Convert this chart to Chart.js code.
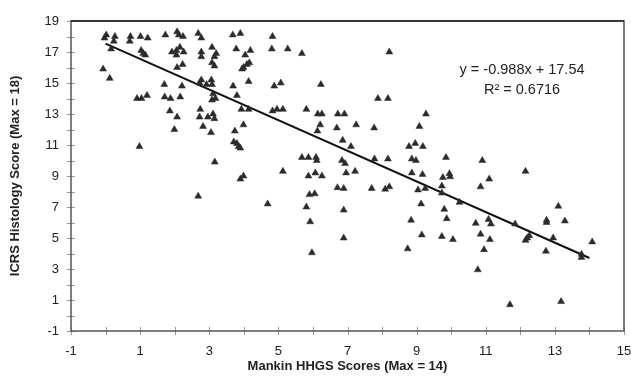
<!DOCTYPE html>
<html>
<head>
<meta charset="utf-8">
<script src="https://cdn.jsdelivr.net/npm/chart.js@4.4.0/dist/chart.umd.min.js"></script>
<style>
  html, body { margin: 0; padding: 0; background: #fff; }
</style>
</head>
<body>
<canvas id="chart" width="631" height="378"></canvas>
<script>
// Mankin HHGS score (x) and ICRS histology score (y)
const mankin = [
  0.02, -0.03, 0.27, 0.24, 0.72, 0.70, 1.01, 1.22, 1.73, 2.07, 2.12, 2.24, 2.68, 2.77, 3.68, 3.90,
  0.16, 1.03, 1.09, 1.15, 1.92, 2.05, 2.15, 2.26, 2.05, 2.77, 2.77, 3.08, 3.20, 3.15, 3.78, 4.04, 4.19,
  -0.07, 0.12, 2.07, 2.23, 3.08, 3.15, 3.95, 3.99, 4.09, 4.16,
  1.70, 2.21, 2.77, 2.72, 2.92, 3.06, 3.08, 3.69, 4.14,
  0.91, 1.04, 1.20, 1.71, 1.88, 2.16, 3.11, 3.18, 3.08, 3.80,
  1.86, 2.07, 2.74, 2.72, 2.96, 3.11, 3.15, 3.93, 4.14,
  1.99, 2.82, 3.05, 3.74, 3.99, 0.98, 3.71, 3.80, 3.85, 3.90,
  3.16, 3.90, 3.99, 2.68, 4.69,
  4.83, 4.81, 5.27, 5.68, 8.21, 4.88, 5.07, 6.23, 7.88, 8.17, 9.27,
  4.83, 4.96, 5.13, 5.81, 6.14, 6.26, 6.72, 6.91, 6.21, 6.13, 6.69, 7.25, 7.77, 9.08,
  6.86, 7.10, 8.78, 8.96, 9.18, 5.68, 5.87, 6.09, 6.11, 6.84, 6.93, 7.78, 8.17, 8.86, 8.98, 9.85,
  5.13, 5.87, 6.07, 6.26, 6.96, 7.22, 8.86, 9.17, 9.76, 6.71, 6.89, 7.70, 8.21, 8.09, 9.04, 9.25,
  9.73, 9.73, 5.90, 6.05, 5.81, 6.89, 9.13, 9.80, 9.87, 5.92, 8.84, 6.89, 9.15, 9.73, 8.74, 5.97,
  10.90, 12.15, 9.95, 9.97, 11.10, 10.85,
  10.24, 10.71, 11.08, 11.15, 13.10, 12.76, 12.76, 13.29, 11.85, 10.05, 10.85, 11.12,
  12.15, 12.26, 12.20, 12.95, 10.95, 12.74, 14.08, 13.77, 13.77, 10.77, 11.70, 13.18
];
const icrs = [
  18.1, 17.9, 18.0, 17.7, 18.0, 17.7, 18.0, 17.9, 18.1, 18.3, 18.1, 18.0, 18.2, 17.9, 18.1, 18.2,
  17.2, 17.1, 16.9, 16.8, 17.0, 17.1, 17.3, 17.0, 16.8, 17.0, 16.7, 17.3, 16.9, 16.7, 17.2, 16.8, 17.1,
  15.9, 15.3, 16.0, 16.2, 16.3, 16.1, 15.9, 16.0, 16.2, 16.3,
  14.9, 14.8, 15.2, 15.0, 14.9, 15.2, 14.9, 14.8, 15.1,
  14.0, 14.0, 14.2, 14.1, 14.0, 14.1, 14.3, 14.0, 13.9, 14.2,
  13.2, 12.8, 13.3, 12.8, 12.8, 13.0, 12.7, 13.3, 13.3,
  12.0, 12.2, 11.8, 11.9, 12.3, 10.9, 11.2, 11.1, 10.9, 10.8,
  9.9, 8.8, 9.0, 7.7, 7.2,
  18.0, 17.2, 17.2, 16.9, 17.0, 14.8, 15.0, 14.9, 14.0, 14.0, 13.0,
  13.2, 13.3, 13.3, 13.3, 13.0, 13.0, 13.0, 13.0, 12.3, 11.9, 12.1, 12.3, 12.1, 12.2,
  11.3, 10.9, 10.9, 11.1, 10.9, 10.2, 10.2, 10.2, 10.0, 10.0, 9.8, 10.1, 10.1, 10.1, 10.0, 10.2,
  9.3, 9.0, 9.2, 9.0, 9.2, 9.3, 9.2, 9.1, 8.9, 8.25, 8.2, 8.2, 8.3, 8.15, 8.1, 8.2,
  8.35, 7.9, 7.8, 7.85, 7.0, 6.8, 7.2, 6.85, 6.25, 6.05, 6.15, 5.0, 5.2, 5.1, 4.3, 4.05,
  10.0, 9.3, 9.15, 8.95, 8.8, 8.3,
  7.3, 5.95, 6.2, 5.9, 7.05, 6.15, 6.0, 6.1, 5.9, 4.9, 5.25, 4.9,
  4.85, 5.15, 5.0, 5.0, 4.25, 4.15, 4.75, 3.95, 3.75, 2.95, 0.7, 0.9
];

const xTickLabels = [-1, 1, 3, 5, 7, 9, 11, 13, 15];
const yTickLabels = [-1, 1, 3, 5, 7, 9, 11, 13, 15, 17, 19];

// linear trend from the figure's equation
const trendSlope = -0.988;
const trendIntercept = 17.54;
const trendRange = [0, 14];
const trendText = ['y = -0.988x + 17.54', 'R\u00B2 = 0.6716'];
const trendTextAt = [12.05, 15.85, 14.55]; // x, y of first line, y of second line

const points = mankin.map((x, i) => ({ x: x, y: icrs[i] }));
const trendPoints = trendRange.map(x => ({ x: x, y: trendSlope * x + trendIntercept }));

const tickColor = '#222';
const axisColor = '#555';

// box around plot, crossing tick marks, equation text
const framePlugin = {
  id: 'frame',
  afterDraw(chart) {
    const { ctx, chartArea: a, scales } = chart;
    ctx.save();

    // tick marks crossing the axes
    ctx.strokeStyle = '#999';
    ctx.lineWidth = 1;
    scales.x.ticks.forEach(t => {
      const px = Math.round(scales.x.getPixelForValue(t.value)) + 0.5;
      ctx.beginPath();
      ctx.moveTo(px, a.bottom - 4);
      ctx.lineTo(px, a.bottom + 4);
      ctx.stroke();
    });
    scales.y.ticks.forEach(t => {
      const py = Math.round(scales.y.getPixelForValue(t.value)) + 0.5;
      ctx.beginPath();
      ctx.moveTo(a.left - 4, py);
      ctx.lineTo(a.left + 4, py);
      ctx.stroke();
    });

    ctx.strokeStyle = axisColor;
    ctx.lineWidth = 1.5;
    ctx.strokeRect(a.left, a.top, a.right - a.left, a.bottom - a.top);
    ctx.strokeStyle = '#222';
    ctx.beginPath();
    ctx.moveTo(a.left, a.top);
    ctx.lineTo(a.right, a.top);
    ctx.stroke();

    ctx.fillStyle = tickColor;
    ctx.font = "14.5px 'Liberation Sans', Arial, sans-serif";
    ctx.textAlign = 'center';
    ctx.textBaseline = 'middle';
    const tx = scales.x.getPixelForValue(trendTextAt[0]);
    ctx.fillText(trendText[0], tx, scales.y.getPixelForValue(trendTextAt[1]));
    ctx.fillText(trendText[1], tx, scales.y.getPixelForValue(trendTextAt[2]));
    ctx.restore();
  }
};

Chart.defaults.font.family = "'Liberation Sans', Arial, sans-serif";
Chart.defaults.color = tickColor;

new Chart(document.getElementById('chart'), {
  type: 'scatter',
  data: {
    datasets: [
      {
        label: 'Samples',
        data: points,
        pointStyle: 'triangle',
        pointRadius: 4,
        pointBackgroundColor: '#2b2b2b',
        pointBorderColor: '#2b2b2b',
        pointBorderWidth: 0.5,
        clip: false
      },
      {
        type: 'line',
        label: 'Trend',
        data: trendPoints,
        borderColor: '#111',
        borderWidth: 2,
        pointRadius: 0,
        fill: false
      }
    ]
  },
  options: {
    responsive: false,
    animation: false,
    layout: { padding: { top: 21, right: 7, left: 0, bottom: 0 } },
    plugins: {
      legend: { display: false },
      tooltip: { enabled: false }
    },
    scales: {
      x: {
        type: 'linear',
        min: -1,
        max: 15,
        afterFit: s => { s.height = 47; s.paddingLeft = 0; s.paddingRight = 0; },
        ticks: {
          stepSize: 1,
          autoSkip: false,
          maxRotation: 0,
          padding: 13,
          font: { size: 13 },
          callback: v => xTickLabels.includes(v) ? v : ''
        },
        grid: { drawOnChartArea: false, drawTicks: false, tickLength: 0 },
        border: { display: false },
        title: {
          display: true,
          text: 'Mankin HHGS Scores (Max = 14)',
          font: { size: 13, weight: 'bold' },
          padding: { top: 0, bottom: 4 }
        }
      },
      y: {
        type: 'linear',
        min: -1,
        max: 19,
        afterFit: s => { s.width = 71; s.paddingTop = 0; s.paddingBottom = 0; },
        ticks: {
          stepSize: 1,
          autoSkip: false,
          padding: 12,
          font: { size: 13 },
          callback: v => yTickLabels.includes(v) ? v : ''
        },
        grid: { drawOnChartArea: false, drawTicks: false, tickLength: 0 },
        border: { display: false },
        title: {
          display: true,
          text: 'ICRS Histology Score (Max = 18)',
          font: { size: 13, weight: 'bold' },
          padding: { top: 8, bottom: 0 }
        }
      }
    }
  },
  plugins: [framePlugin]
});
</script>
</body>
</html>
